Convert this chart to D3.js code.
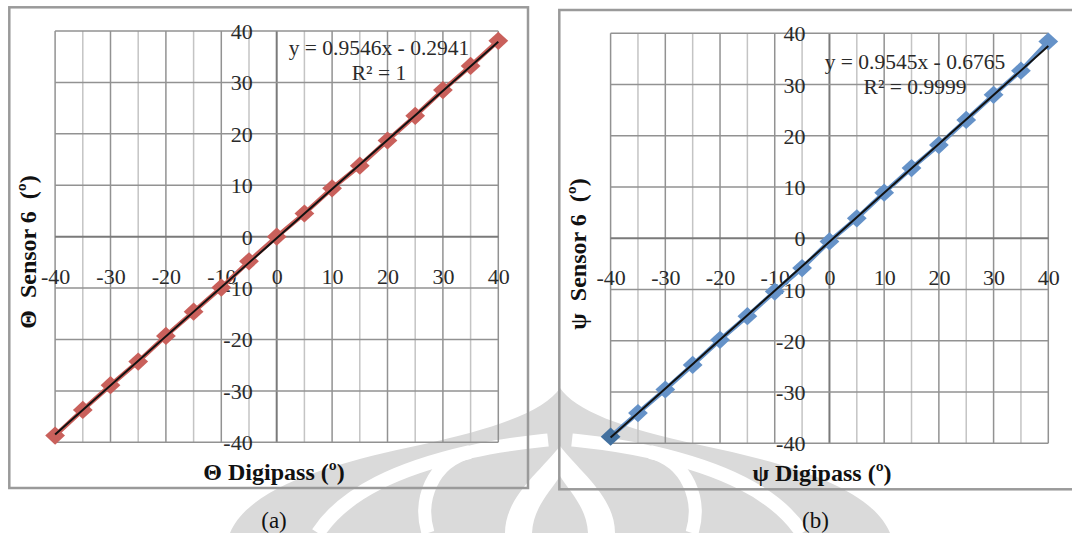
<!DOCTYPE html>
<html lang="en">
<head>
    <meta charset="UTF-8">
    <title>Sensor 6 vs Digipass</title>
    <style>
        body { margin: 0; background: #fff; }
        text { font-family: "Liberation Serif", "Times New Roman", serif; }
    </style>
</head>
<body>
<script src="https://cdn.jsdelivr.net/npm/d3@7"></script>
<script>
    // angles set on the Digipass (deg)
    var digipassAngles = [-40, -35, -30, -25, -20, -15, -10, -5, 0, 5, 10, 15, 20, 25, 30, 35, 40];
    // what sensor 6 read, theta (a) and psi (b)
    var thetaSensor = [-38.7, -33.7, -28.9, -24.3, -19.3, -14.6, -9.9, -4.8, 0.0, 4.5, 9.4, 13.8, 18.7, 23.5, 28.5, 33.2, 38.1];
    var psiSensor = [-38.7, -34.1, -29.5, -24.7, -19.8, -15.2, -10.4, -5.8, -0.6, 3.9, 8.9, 13.7, 18.2, 23.1, 28.0, 32.7, 38.4];
    // excel trendlines
    var thetaFit = {slope: 0.9546, intercept: -0.2941, label: 'y = 0.9546x - 0.2941', r2: 'R\u00b2 = 1'};
    var psiFit = {slope: 0.9545, intercept: -0.6765, label: 'y = 0.9545x - 0.6765', r2: 'R\u00b2 = 0.9999'};
    var axisTicks = [-40, -30, -20, -10, 0, 10, 20, 30, 40];
    var minorTicks = [-35, -25, -15, -5, 5, 15, 25, 35];

    var svg = d3.select('body')
            .append('svg')
            .attr('width', 1072)
            .attr('height', 533);

    // university watermark behind everything (left half, mirrored)
    var wmGrey = '#dadada';
    var wm = svg.append('g');
    [1, -1].forEach(function (s) {
        var side = wm.append('g')
                .attr('transform', 'translate(560,0) scale(' + s + ',1) translate(-560,0)');
        side.append('path')
                .attr('d', 'M230,533 C250,485 340,462 420,445 C500,428 545,410 560,388 L560,533 Z')
                .attr('fill', wmGrey);
        side.append('path')
                .attr('d', 'M318,533 C345,492 400,468 470,452')
                .attr('fill', 'none')
                .attr('stroke', '#fff')
                .attr('stroke-width', 14);
        side.append('path')
                .attr('d', 'M428,533 C418,500 432,462 470,452 C505,444 530,442 548,440')
                .attr('fill', 'none')
                .attr('stroke', '#fff')
                .attr('stroke-width', 13);
    });
    wm.append('path')
            .attr('d', 'M505,533 C505,497 540,472 560,446 C580,472 615,497 615,533 Z')
            .attr('fill', '#fff');
    wm.append('path')
            .attr('d', 'M532,533 C533,508 550,492 560,476 C570,492 587,508 588,533 Z')
            .attr('fill', wmGrey);

    function drawChart(cfg) {
        var g = svg.append('g');

        var x = d3.scaleLinear().domain([-40, 40]).range([cfg.plot.x0, cfg.plot.x1]);
        var y = d3.scaleLinear().domain([-40, 40]).range([cfg.plot.y1, cfg.plot.y0]);

        g.append('rect')
                .attr('x', cfg.box.x)
                .attr('y', cfg.box.y)
                .attr('width', cfg.box.w)
                .attr('height', cfg.box.h)
                .attr('fill', 'none')
                .attr('stroke', '#9a9a9a')
                .attr('stroke-width', 2.5);

        // light vertical lines at the odd fives
        g.selectAll('line.minor')
                .data(minorTicks)
                .enter()
                .append('line')
                .attr('class', 'minor')
                .attr('x1', function (d) { return x(d); })
                .attr('x2', function (d) { return x(d); })
                .attr('y1', y(-40))
                .attr('y2', y(40))
                .attr('stroke', '#c4c4c4')
                .attr('stroke-width', 1.5);

        g.selectAll('line.vmajor')
                .data(axisTicks)
                .enter()
                .append('line')
                .attr('class', 'vmajor')
                .attr('x1', function (d) { return x(d); })
                .attr('x2', function (d) { return x(d); })
                .attr('y1', y(-40))
                .attr('y2', y(40))
                .attr('stroke', function (d) { return d === 0 ? '#7a7a7a' : '#929292'; })
                .attr('stroke-width', function (d) { return d === 0 ? 2 : 1.5; });

        g.selectAll('line.hmajor')
                .data(axisTicks)
                .enter()
                .append('line')
                .attr('class', 'hmajor')
                .attr('x1', x(-40))
                .attr('x2', x(40))
                .attr('y1', function (d) { return y(d); })
                .attr('y2', function (d) { return y(d); })
                .attr('stroke', function (d) { return d === 0 ? '#7a7a7a' : '#929292'; })
                .attr('stroke-width', function (d) { return d === 0 ? 2 : 1.5; });

        // tick labels, plain hyphen like excel
        var fmt = function (d) { return String(d); };
        var xAxis = d3.axisBottom(x).tickValues(axisTicks).tickSize(0).tickPadding(0).tickFormat(fmt);
        var xg = g.append('g')
                .attr('transform', 'translate(0,' + (y(0) + 47) + ')')
                .call(xAxis);
        xg.select('.domain').remove();
        xg.selectAll('text')
                .attr('dy', 0)
                .attr('font-size', 22)
                .attr('fill', '#2a2a2a');

        var yAxis = d3.axisLeft(y).tickValues(axisTicks).tickSize(0).tickPadding(0).tickFormat(fmt);
        var yg = g.append('g')
                .attr('transform', 'translate(' + (x(0) - 24) + ',0)')
                .call(yAxis);
        yg.select('.domain').remove();
        yg.selectAll('text')
                .attr('dy', '0.34em')
                .attr('font-size', 22)
                .attr('fill', '#2a2a2a');

        var pts = digipassAngles.map(function (a, i) { return [a, cfg.values[i]]; });

        // series line under the markers
        g.append('path')
                .datum(pts)
                .attr('d', d3.line()
                        .x(function (d) { return x(d[0]); })
                        .y(function (d) { return y(d[1]); }))
                .attr('fill', 'none')
                .attr('stroke', cfg.color)
                .attr('stroke-width', 4.5);

        g.selectAll('path.marker')
                .data(pts)
                .enter()
                .append('path')
                .attr('class', 'marker')
                .attr('d', d3.symbol().type(d3.symbolDiamond2).size(250))
                .attr('transform', function (d) {
                    return 'translate(' + x(d[0]) + ',' + y(d[1]) + ') scale(1,0.92)';
                })
                .attr('fill', function (d, i) { return i === 0 && cfg.firstColor ? cfg.firstColor : cfg.color; });

        // linear trendline
        var fitPts = [-40, 40].map(function (a) { return [a, cfg.fit.slope * a + cfg.fit.intercept]; });
        g.append('path')
                .datum(fitPts)
                .attr('d', d3.line()
                        .x(function (d) { return x(d[0]); })
                        .y(function (d) { return y(d[1]); }))
                .attr('fill', 'none')
                .attr('stroke', '#111')
                .attr('stroke-width', 2);

        g.append('text')
                .attr('x', cfg.eq[0])
                .attr('y', cfg.eq[1])
                .attr('text-anchor', 'middle')
                .attr('font-size', 21.5)
                .attr('fill', '#2a2a2a')
                .text(cfg.fit.label);
        g.append('text')
                .attr('x', cfg.eq[0])
                .attr('y', cfg.eq[1] + 25)
                .attr('text-anchor', 'middle')
                .attr('font-size', 21.5)
                .attr('fill', '#2a2a2a')
                .text(cfg.fit.r2);

        g.append('text')
                .attr('transform', 'translate(' + cfg.yTitle[0] + ',' + cfg.yTitle[1] + ') rotate(-90)')
                .attr('text-anchor', 'middle')
                .attr('font-size', 24)
                .attr('font-weight', 'bold')
                .attr('fill', '#111')
                .style('white-space', 'pre')
                .text(cfg.yLabel);

        g.append('text')
                .attr('x', cfg.xTitle[0])
                .attr('y', cfg.xTitle[1])
                .attr('text-anchor', 'middle')
                .attr('font-size', 24)
                .attr('font-weight', 'bold')
                .attr('fill', '#111')
                .text(cfg.xLabel);

        svg.append('text')
                .attr('x', cfg.caption[0])
                .attr('y', cfg.caption[1])
                .attr('text-anchor', 'middle')
                .attr('font-size', 23)
                .attr('fill', '#111')
                .text(cfg.captionText);
    }

    drawChart({
        box: {x: 9.3, y: 7.3, w: 518.7, h: 480.7},
        plot: {x0: 55.1, x1: 498.3, y0: 31, y1: 442.3},
        values: thetaSensor,
        fit: thetaFit,
        color: '#C9605B',
        eq: [379, 55],
        yTitle: [36, 252],
        xTitle: [274, 480],
        xLabel: '\u0398 Digipass (\u00ba)',
        yLabel: '\u0398  Sensor 6  (\u00ba)',
        caption: [274, 528],
        captionText: '(a)'
    });

    drawChart({
        box: {x: 559.3, y: 10, w: 600, h: 479.3},
        plot: {x0: 610.6, x1: 1048.3, y0: 33.3, y1: 443.3},
        values: psiSensor,
        fit: psiFit,
        color: '#6592C8',
        firstColor: '#42709F',
        eq: [915, 69],
        yTitle: [586, 254],
        xTitle: [822, 481],
        xLabel: '\u03c8 Digipass (\u00ba)',
        yLabel: '\u03c8  Sensor 6  (\u00ba)',
        caption: [815.5, 528],
        captionText: '(b)'
    });
</script>
</body>
</html>
